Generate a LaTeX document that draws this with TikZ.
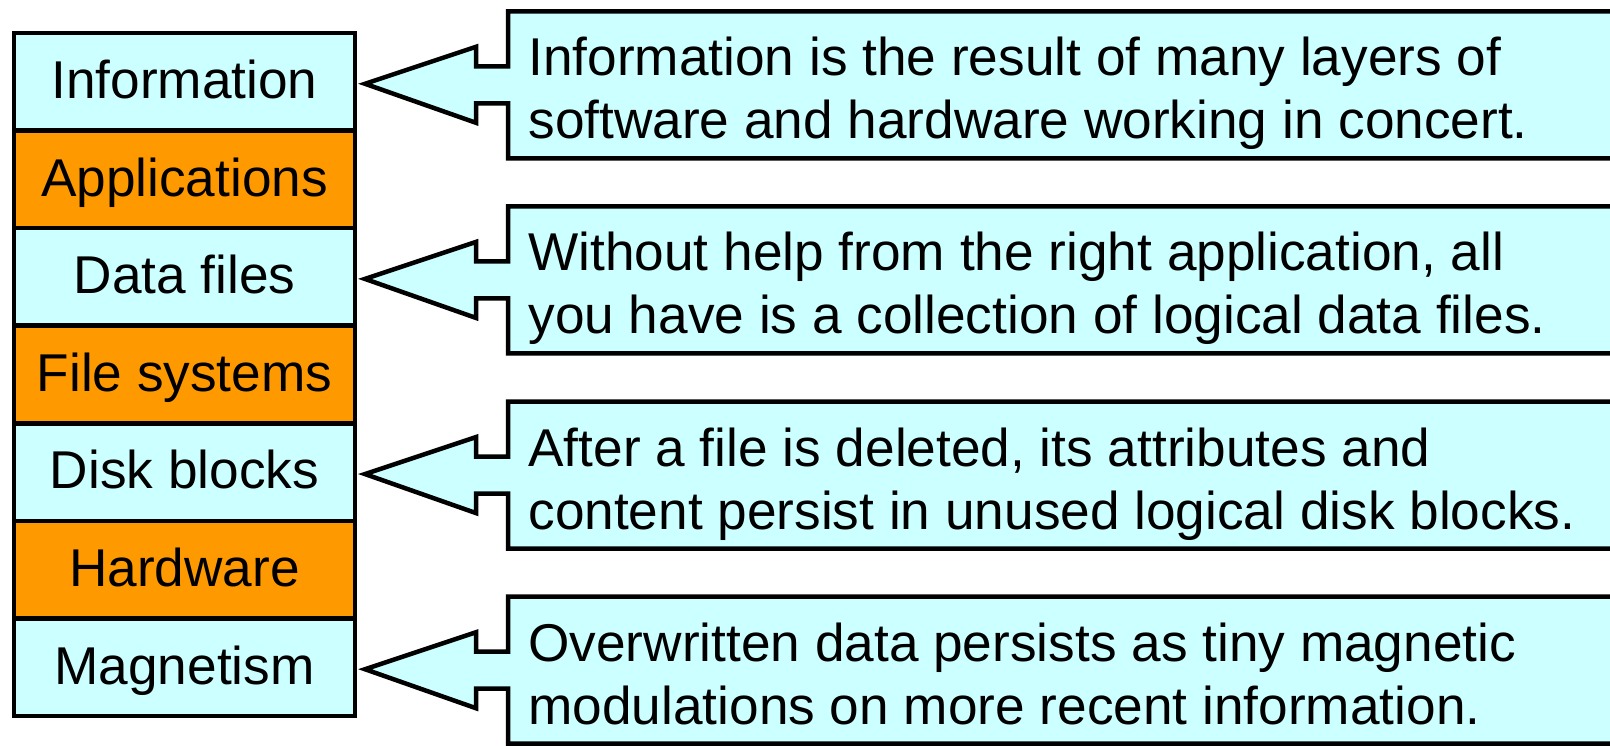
\documentclass[tikz,border=0pt]{standalone}
\usepackage{fontspec}
\setmainfont{Liberation Sans}
\usetikzlibrary{calc}
\definecolor{cyanfill}{HTML}{CCFFFF}
\definecolor{orangefill}{HTML}{FF9900}

\begin{document}
\begin{tikzpicture}[x=0.5pt,y=-0.5pt,
  layer/.style={draw, line width=2.25pt, minimum width=170.5pt, minimum height=48.79pt,
    inner sep=0pt, outer sep=0pt, text height=18.7pt, text depth=1.9pt,
    font=\fontsize{26.6}{31.5}\selectfont},
  notebox/.style={minimum width=600pt, minimum height=73.5pt, inner sep=0pt, outer sep=0pt, anchor=west},
  notetext/.style={align=left, inner sep=0pt, anchor=north west, font=\fontsize{26.6}{31.5}\selectfont},
  callout/.style={draw, fill=cyanfill, line width=2.25pt, line join=miter}]
  \useasboundingbox (0,0) rectangle (1610,745);
  \clip (0,0) rectangle (1610,745);
  \foreach \lab/\col [count=\i] in {Information/cyanfill, Applications/orangefill, Data files/cyanfill,
      File systems/orangefill, Disk blocks/cyanfill, Hardware/orangefill, Magnetism/cyanfill} {
    \node[layer, fill=\col] (l\i) at (184.5,{33+97.57*(\i-0.5)}) {\lab};
  }
  \foreach \k/\ta/\tb in {
      1/{Information is the result of many layers of}/{software and hardware working in concert.},
      3/{Without help from the right application, all}/{you have is a collection of logical data files.},
      5/{After a file is deleted, its attributes and}/{content persist in unused logical disk blocks.},
      7/{Overwritten data persists as tiny magnetic}/{modulations on more recent information.}} {
    \node[notebox] (b\k) at ($(l\k.east)+(153,3)$) {};
    \draw[callout] (b\k.south east) -- (b\k.south west) -- ($(b\k.west)+(0,18.5)$) -- ++(-32,0) -- ++(0,19.5)
      -- ($(l\k.east)+(10,2)$) -- ($(b\k.west)+(-32,-38)$) -- ++(0,19.5) -- ($(b\k.west)+(0,-18.5)$)
      -- (b\k.north west) -- (b\k.north east) -- cycle;
    \node[notetext] (t\k) at ($(b\k.north west)+(20,25.5)$) {\ta\\\tb};
  }
\end{tikzpicture}
\end{document}
